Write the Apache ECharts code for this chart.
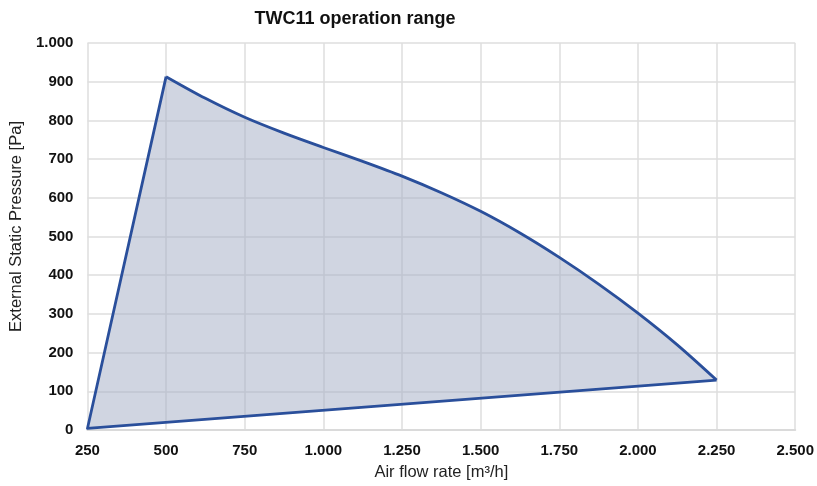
<!DOCTYPE html>
<html>
<head>
<meta charset="utf-8">
<script src="https://cdn.jsdelivr.net/npm/echarts@6/dist/echarts.min.js"></script>
<style>html,body{margin:0;padding:0;background:#fff}#c{width:817px;height:486px}</style>
</head>
<body>
<div id="c"></div>
<script>
// Upper boundary (max pressure curve), x = air flow [m3/h], y = pressure [Pa]
const curveX = [500, 625, 750, 875, 1000, 1125, 1250, 1375, 1500, 1625, 1750, 1875, 2000, 2125, 2250];
const curveY = [913, 857, 808, 767, 730, 694, 656, 613, 565, 509, 446, 377, 302, 220, 129];
// Left edge and bottom edge corners
const startPoint = [250, 4];
const endPoint = [2250, 129];
const xTicks = [250, 500, 750, 1000, 1250, 1500, 1750, 2000, 2250, 2500];
const yTicks = [0, 100, 200, 300, 400, 500, 600, 700, 800, 900, 1000];

const fmt = v => {
  const s = String(Math.round(v));
  return s.replace(/\B(?=(\d{3})+(?!\d))/g, '.');
};

const curve = curveX.map((x, i) => [x, curveY[i]]);
const outline = [startPoint].concat(curve).concat([endPoint, startPoint]);
const edges = [curve[0], startPoint, endPoint];

const chart = echarts.init(document.getElementById('c'), null, {renderer: 'canvas'});
chart.setOption({
  animation: false,
  backgroundColor: '#fff',
  title: {
    text: 'TWC11 operation range',
    left: 350, top: 5, textAlign: 'center',
    textStyle: {fontFamily: 'Liberation Sans', fontWeight: 'bold', fontSize: 18, color: '#111'}
  },
  grid: {left: 86, right: 21, top: 43, bottom: 55},
  xAxis: {
    type: 'value', min: xTicks[0], max: xTicks[xTicks.length - 1], interval: 250,
    name: 'Air flow rate [m³/h]', nameLocation: 'middle', nameGap: 34,
    nameTextStyle: {fontFamily: 'Liberation Sans', fontSize: 16.5, color: '#222'},
    axisLine: {show: true, lineStyle: {color: '#dadada', width: 2}},
    axisTick: {show: false},
    splitLine: {show: true, lineStyle: {color: '#dedede', width: 1.5}},
    axisLabel: {formatter: fmt, margin: 13, fontFamily: 'Liberation Sans', fontWeight: 'bold', fontSize: 15, color: '#111'}
  },
  yAxis: {
    type: 'value', min: yTicks[0], max: yTicks[yTicks.length - 1], interval: 100,
    name: 'External Static Pressure [Pa]', nameLocation: 'middle', nameGap: 60,
    nameTextStyle: {fontFamily: 'Liberation Sans', fontSize: 16.5, color: '#222', padding: [0, 0, 0, 20]},
    axisLine: {show: false},
    axisTick: {show: false},
    splitLine: {show: true, lineStyle: {color: '#dedede', width: 1.5}},
    axisLabel: {formatter: fmt, margin: 14, fontFamily: 'Liberation Sans', fontWeight: 'bold', fontSize: 15, color: '#111'}
  },
  series: [
    {
      type: 'custom',
      silent: true,
      z: 1,
      data: [0],
      renderItem: function (params, api) {
        const pts = outline.map(p => api.coord(p));
        return {
          type: 'polygon',
          shape: {points: pts},
          style: {fill: 'rgba(165,174,198,0.52)', stroke: null}
        };
      }
    },
    {
      type: 'line',
      data: edges,
      showSymbol: false,
      z: 3,
      lineStyle: {color: '#2a4f9b', width: 2.8, join: 'round'}
    },
    {
      type: 'line',
      data: curve,
      smooth: 0.3,
      showSymbol: false,
      z: 3,
      lineStyle: {color: '#2a4f9b', width: 2.8, join: 'round'}
    }
  ]
});
</script>
</body>
</html>
